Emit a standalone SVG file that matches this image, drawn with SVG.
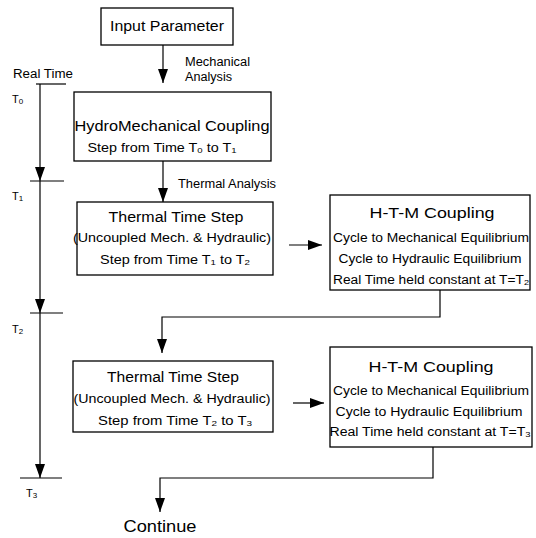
<svg xmlns="http://www.w3.org/2000/svg" width="536" height="538" viewBox="0 0 536 538">
<defs>
<style>
.box{fill:#fff;stroke:#000;stroke-width:1.3}
.ln{fill:none;stroke:#000;stroke-width:1.2}
text{font-family:"Liberation Sans",Arial,sans-serif;fill:#000}
.t{font-size:14px;text-anchor:middle}
.s{font-size:12px;text-anchor:middle}
.l{font-size:12px}
.tl{font-size:11px}
</style>
<marker id="ah" markerUnits="userSpaceOnUse" markerWidth="14" markerHeight="10" viewBox="0 0 14 10" refX="14" refY="5" orient="auto">
<path d="M0,0 L14,5 L0,10 Z" fill="#000"/>
</marker>
</defs>
<rect width="536" height="538" fill="#fff"/>

<g id="timeline">
<text class="l" x="13" y="78" textLength="60" lengthAdjust="spacingAndGlyphs">Real Time</text>
<line class="ln" x1="36" y1="84" x2="66" y2="84"/>
<text class="tl" x="12" y="103">T<tspan font-size="8" dy="1">0</tspan></text>
<line class="ln" x1="30" y1="181" x2="64" y2="181"/>
<text class="tl" x="12" y="200">T<tspan font-size="8" dy="1">1</tspan></text>
<line class="ln" x1="30" y1="313" x2="63" y2="313"/>
<text class="tl" x="12" y="333">T<tspan font-size="8" dy="1">2</tspan></text>
<line class="ln" x1="20" y1="478" x2="62" y2="478"/>
<text class="tl" x="26" y="497">T<tspan font-size="8" dy="1">3</tspan></text>
</g>

<g id="input">
<rect class="box" x="101" y="8" width="132" height="37"/>
<text class="t" x="167" y="31" textLength="114" lengthAdjust="spacingAndGlyphs">Input Parameter</text>
</g>

<g id="hydromech">
<rect class="box" x="74" y="92" width="197" height="69"/>
<text class="t" x="172" y="131" font-size="15" textLength="195" lengthAdjust="spacingAndGlyphs">HydroMechanical Coupling</text>
<text class="s" x="162" y="152" textLength="149" lengthAdjust="spacingAndGlyphs">Step from Time T<tspan font-size="8" dy="1">0</tspan><tspan dy="-1">  to T</tspan><tspan font-size="8" dy="1">1</tspan></text>
</g>

<g id="thermal1">
<rect class="box" x="77" y="202" width="196" height="73"/>
<text class="t" x="176" y="222" textLength="135" lengthAdjust="spacingAndGlyphs">Thermal Time Step</text>
<text class="s" x="172" y="242" textLength="198" lengthAdjust="spacingAndGlyphs">(Uncoupled Mech. &amp; Hydraulic)</text>
<text class="s" x="175" y="264" textLength="150" lengthAdjust="spacingAndGlyphs">Step from Time T<tspan font-size="8" dy="1">1</tspan><tspan dy="-1">  to T</tspan><tspan font-size="8" dy="1">2</tspan></text>
</g>

<g id="htm1">
<rect class="box" x="330" y="195" width="200" height="95"/>
<text class="t" x="432" y="218" textLength="125" lengthAdjust="spacingAndGlyphs">H-T-M Coupling</text>
<text class="s" x="431" y="242" textLength="196" lengthAdjust="spacingAndGlyphs">Cycle to Mechanical Equilibrium</text>
<text class="s" x="430" y="263" textLength="183" lengthAdjust="spacingAndGlyphs">Cycle to Hydraulic Equilibrium</text>
<text class="s" x="431" y="284" textLength="196" lengthAdjust="spacingAndGlyphs">Real Time held constant at T=T<tspan font-size="8" dy="1">2</tspan></text>
</g>

<g id="thermal2">
<rect class="box" x="73" y="361" width="200" height="71"/>
<text class="t" x="173" y="382" textLength="132" lengthAdjust="spacingAndGlyphs">Thermal Time Step</text>
<text class="s" x="172" y="403" textLength="197" lengthAdjust="spacingAndGlyphs">(Uncoupled Mech. &amp; Hydraulic)</text>
<text class="s" x="175" y="425" textLength="154" lengthAdjust="spacingAndGlyphs">Step from Time T<tspan font-size="8" dy="1">2</tspan><tspan dy="-1">  to T</tspan><tspan font-size="8" dy="1">3</tspan></text>
</g>

<g id="htm2">
<rect class="box" x="330" y="347" width="202" height="100"/>
<text class="t" x="431" y="372" textLength="125" lengthAdjust="spacingAndGlyphs">H-T-M Coupling</text>
<text class="s" x="431" y="395" textLength="196" lengthAdjust="spacingAndGlyphs">Cycle to Mechanical Equilibrium</text>
<text class="s" x="429" y="416" textLength="187" lengthAdjust="spacingAndGlyphs">Cycle to Hydraulic  Equilibrium</text>
<text class="s" x="430" y="436" textLength="201" lengthAdjust="spacingAndGlyphs">Real Time held constant at T=T<tspan font-size="8" dy="1">3</tspan></text>
</g>

<g id="continue">
<text x="160" y="532" font-size="16" text-anchor="middle" textLength="73" lengthAdjust="spacingAndGlyphs">Continue</text>
</g>

<g id="connectors">
<line class="ln" x1="163" y1="45" x2="163" y2="83" marker-end="url(#ah)"/>
<text class="l" x="185" y="66" textLength="65" lengthAdjust="spacingAndGlyphs">Mechanical</text>
<text class="l" x="185" y="81" textLength="47" lengthAdjust="spacingAndGlyphs">Analysis</text>
<line class="ln" x1="163" y1="161" x2="163" y2="202" marker-end="url(#ah)"/>
<text class="l" x="178" y="188" textLength="98" lengthAdjust="spacingAndGlyphs">Thermal Analysis</text>
<line class="ln" x1="289" y1="245" x2="322" y2="245" marker-end="url(#ah)"/>
<polyline class="ln" points="440,290 440,317 162,317 162,353" marker-end="url(#ah)"/>
<line class="ln" x1="293" y1="403" x2="324" y2="403" marker-end="url(#ah)"/>
<polyline class="ln" points="433,447 433,478 160,478 160,512" marker-end="url(#ah)"/>
<line class="ln" x1="40" y1="84" x2="40" y2="181" marker-end="url(#ah)"/>
<line class="ln" x1="40" y1="181" x2="40" y2="313" marker-end="url(#ah)"/>
<line class="ln" x1="40" y1="313" x2="40" y2="478" marker-end="url(#ah)"/>
</g>
</svg>
